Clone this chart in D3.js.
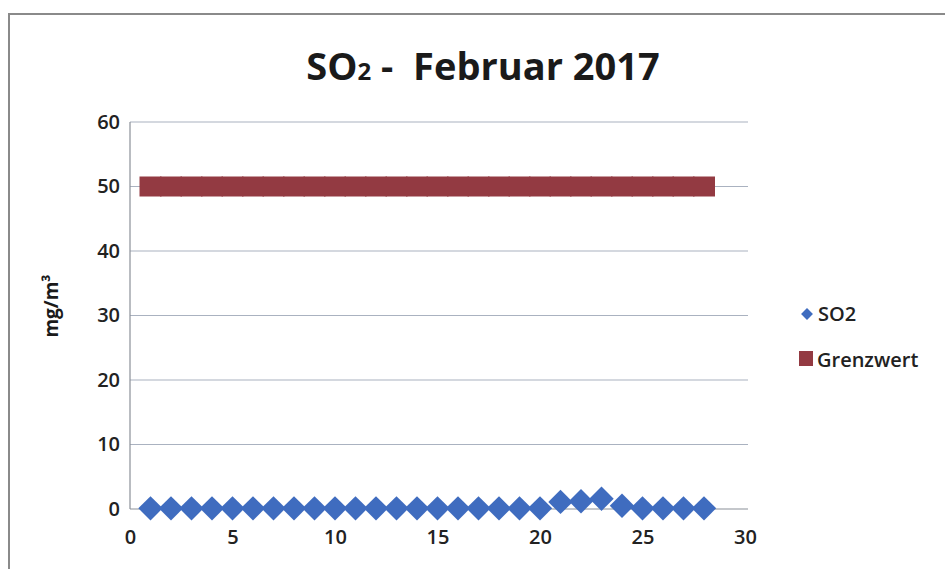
<!DOCTYPE html>
<html>
<head>
<meta charset="utf-8">
<script src="https://cdn.jsdelivr.net/npm/d3@7"></script>
<style>
  body { margin: 0; background: #fff; }
  svg { display: block; font-family: "Open Sans", "Noto Sans", sans-serif; }
</style>
</head>
<body>
<svg id="chart" width="945" height="569"></svg>
<script>
// data
const days      = d3.range(1, 29);
const so2       = [0.1,0.1,0.1,0.1,0.1,0.1,0.1,0.1,0.1,0.1,0.1,0.1,0.1,0.1,0.1,0.1,0.1,0.1,0.1,0.1,1.1,1.2,1.6,0.5,0.1,0.1,0.1,0.1];
const grenzwert = days.map(() => 50);
const yTicks    = [0, 10, 20, 30, 40, 50, 60];
const xTicks    = [0, 5, 10, 15, 20, 25, 30];

const svg = d3.select("#chart"),
      m   = {top:122, left:130};

const x = d3.scaleLinear().domain([0, 30]).range([0, 615]);
const y = d3.scaleLinear().domain([0, 60]).range([387, 0]);

// frame of the scanned chart
svg.append("rect")
  .attr("x", 9).attr("y", 14)
  .attr("width", 960).attr("height", 600)
  .attr("fill", "none").attr("stroke", "#8a8a8a").attr("stroke-width", 2);

// title
const title = svg.append("text")
  .attr("x", 483).attr("y", 80)
  .attr("text-anchor", "middle")
  .style("white-space", "pre")
  .attr("font-size", 38).attr("font-weight", "bold")
  .attr("fill", "#1a1a1a");
title.append("tspan").text("SO");
title.append("tspan").attr("font-size", 24).text("2");
title.append("tspan").text(" -  Februar 2017");

const g = svg.append("g")
  .attr("transform", `translate(${m.left},${m.top})`);

// gridlines
g.append("g").selectAll("line")
  .data(yTicks).enter().append("line")
    .attr("x1", 0).attr("x2", 618)
    .attr("y1", d => y(d)).attr("y2", d => y(d))
    .attr("stroke", d => d === 0 ? "#8a8f98" : "#aab2c0")
    .attr("stroke-width", 1.2);

// y axis line
g.append("line")
  .attr("x1", 0).attr("x2", 0)
  .attr("y1", 0).attr("y2", y(0))
  .attr("stroke", "#8a8f98").attr("stroke-width", 1.2);

// y tick labels
g.append("g")
  .attr("transform", "translate(-10,0)")
  .call(d3.axisLeft(y).tickValues(yTicks).tickSize(0).tickPadding(0))
  .call(a => a.select(".domain").remove())
  .selectAll("text")
    .attr("font-size", 20).attr("font-weight", "600")
    .attr("font-family", "'Open Sans', sans-serif")
    .attr("fill", "#222");

// x tick labels
g.append("g")
  .attr("transform", `translate(0,${y(0)})`)
  .call(d3.axisBottom(x).tickValues(xTicks).tickSize(0).tickPadding(21))
  .call(a => a.select(".domain").remove())
  .selectAll("text")
    .attr("font-size", 20).attr("font-weight", "600")
    .attr("font-family", "'Open Sans', sans-serif")
    .attr("fill", "#222");

// y axis title
svg.append("text")
  .attr("transform", "translate(58,306) rotate(-90)")
  .attr("text-anchor", "middle")
  .attr("font-size", 19).attr("font-weight", "bold")
  .attr("fill", "#1a1a1a")
  .text("mg/m³");

// Grenzwert squares
g.append("g").selectAll("rect")
  .data(grenzwert).enter().append("rect")
    .attr("x", (d, i) => x(days[i]) - 11)
    .attr("y", d => y(d) - 10)
    .attr("width", 22).attr("height", 20)
    .attr("fill", "#933a42");

// SO2 diamonds
const diamond = d3.symbol().type(d3.symbolDiamond2).size(380);
g.append("g").selectAll("path")
  .data(so2).enter().append("path")
    .attr("d", diamond)
    .attr("transform", (d, i) => `translate(${x(days[i])},${y(d)})`)
    .attr("fill", "#3f6cbf");

// legend
const legend = svg.append("g");
legend.append("path")
  .attr("d", d3.symbol().type(d3.symbolDiamond2).size(90))
  .attr("transform", "translate(807,314)")
  .attr("fill", "#3f6cbf");
legend.append("text")
  .attr("x", 818).attr("y", 321)
  .attr("font-size", 20).attr("font-weight", "600")
  .attr("fill", "#222").text("SO2");
legend.append("rect")
  .attr("x", 799).attr("y", 351)
  .attr("width", 14).attr("height", 15)
  .attr("fill", "#933a42");
legend.append("text")
  .attr("x", 817).attr("y", 367)
  .attr("font-size", 20).attr("font-weight", "600")
  .attr("fill", "#222").text("Grenzwert");
</script>
</body>
</html>
